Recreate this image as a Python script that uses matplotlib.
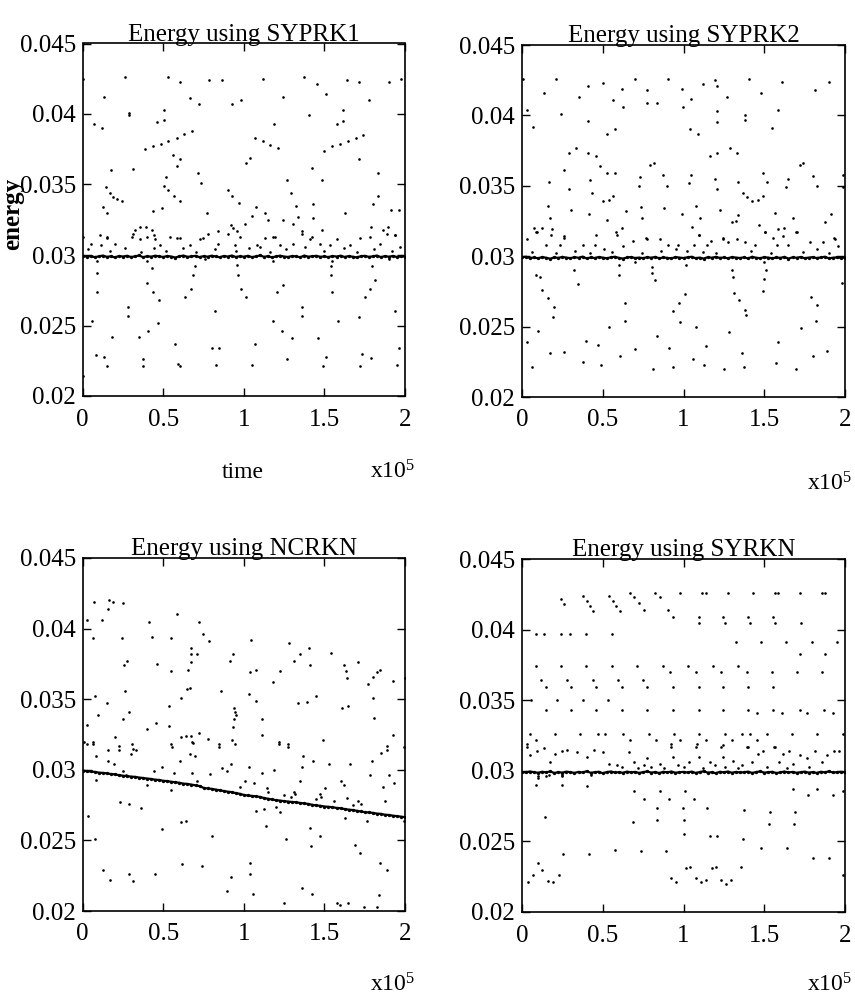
import numpy as np
import matplotlib
matplotlib.use("Agg")
import matplotlib.pyplot as plt

plt.rcParams['font.family'] = ['Liberation Serif', 'DejaVu Serif']
plt.rcParams['mathtext.fontset'] = 'custom'
plt.rcParams['mathtext.rm'] = 'Liberation Serif'
plt.rcParams['mathtext.it'] = 'Liberation Serif'

##############################################
# dati (tempo in unita' di 1e5)
titles = ['Energy using SYPRK1', 'Energy using SYPRK2', 'Energy using NCRKN', 'Energy using SYRKN']
yticks = [0.02, 0.025, 0.03, 0.035, 0.04, 0.045]
ytick_labels = ['0.02', '0.025', '0.03', '0.035', '0.04', '0.045']
xticks = [0, 0.5, 1, 1.5, 2]
xtick_labels = ['0', '0.5', '1', '1.5', '2']

# banda densa (campionata a passo costante su [0, 2])
band_syprk1 = [
    0.02995, 0.02988, 0.02992, 0.02985, 0.02990, 0.02996, 0.02987, 0.02991, 0.02983, 0.02993,
    0.02989, 0.02994, 0.02986, 0.02990, 0.02997, 0.02984, 0.02992, 0.02988, 0.02995, 0.02990,
    0.02986, 0.02993, 0.02989, 0.02982, 0.02991, 0.02996, 0.02987, 0.02990, 0.02994, 0.02985,
    0.02992, 0.02988, 0.02995, 0.02990, 0.02984, 0.02993, 0.02989, 0.02996, 0.02986, 0.02991,
    0.02988, 0.02994, 0.02985, 0.02990, 0.02997, 0.02987, 0.02992, 0.02983, 0.02990, 0.02995,
    0.02989, 0.02986, 0.02993, 0.02990, 0.02984, 0.02996, 0.02988, 0.02991, 0.02994, 0.02987,
    0.02990, 0.02985, 0.02993, 0.02989, 0.02995, 0.02986, 0.02992, 0.02988, 0.02983, 0.02991,
    0.02994, 0.02987, 0.02990, 0.02996, 0.02985, 0.02992, 0.02988, 0.02993, 0.02986, 0.02990,
    0.02989]
band_syprk2 = [
    0.02993, 0.02996, 0.02987, 0.02991, 0.02985, 0.02994, 0.02989, 0.02982, 0.02992, 0.02988,
    0.02995, 0.02990, 0.02986, 0.02993, 0.02989, 0.02997, 0.02984, 0.02991, 0.02987, 0.02994,
    0.02990, 0.02985, 0.02992, 0.02996, 0.02988, 0.02983, 0.02991, 0.02994, 0.02987, 0.02990,
    0.02986, 0.02993, 0.02989, 0.02995, 0.02985, 0.02991, 0.02988, 0.02984, 0.02994, 0.02990,
    0.02987, 0.02992, 0.02996, 0.02986, 0.02990, 0.02983, 0.02993, 0.02989, 0.02995, 0.02988,
    0.02991, 0.02985, 0.02994, 0.02990, 0.02987, 0.02992, 0.02984, 0.02996, 0.02989, 0.02986,
    0.02993, 0.02990, 0.02985, 0.02991, 0.02988, 0.02995, 0.02983, 0.02992, 0.02989, 0.02994,
    0.02986, 0.02990, 0.02993, 0.02987, 0.02991, 0.02996, 0.02985, 0.02989, 0.02992, 0.02988,
    0.02990]
band_ncrkn = [
    0.02995, 0.02990, 0.02988, 0.02985, 0.02980, 0.02978, 0.02975, 0.02970, 0.02968, 0.02962,
    0.02958, 0.02955, 0.02952, 0.02950, 0.02945, 0.02942, 0.02938, 0.02935, 0.02930, 0.02928,
    0.02922, 0.02920, 0.02915, 0.02912, 0.02908, 0.02902, 0.02900, 0.02895, 0.02890, 0.02885,
    0.02872, 0.02868, 0.02865, 0.02860, 0.02855, 0.02850, 0.02845, 0.02842, 0.02835, 0.02830,
    0.02822, 0.02818, 0.02815, 0.02812, 0.02808, 0.02800, 0.02795, 0.02790, 0.02785, 0.02782,
    0.02778, 0.02775, 0.02772, 0.02770, 0.02765, 0.02762, 0.02758, 0.02752, 0.02748, 0.02745,
    0.02740, 0.02738, 0.02735, 0.02730, 0.02728, 0.02722, 0.02718, 0.02715, 0.02710, 0.02705,
    0.02700, 0.02698, 0.02695, 0.02690, 0.02688, 0.02682, 0.02680, 0.02675, 0.02672, 0.02668,
    0.02665]
band_syrkn = [
    0.02992, 0.02988, 0.02995, 0.02990, 0.02986, 0.02993, 0.02989, 0.02996, 0.02984, 0.02991,
    0.02987, 0.02994, 0.02990, 0.02985, 0.02992, 0.02988, 0.02997, 0.02986, 0.02990, 0.02993,
    0.02983, 0.02991, 0.02995, 0.02988, 0.02990, 0.02986, 0.02994, 0.02989, 0.02992, 0.02985,
    0.02990, 0.02996, 0.02987, 0.02991, 0.02984, 0.02993, 0.02989, 0.02995, 0.02986, 0.02990,
    0.02992, 0.02988, 0.02994, 0.02985, 0.02991, 0.02997, 0.02987, 0.02990, 0.02983, 0.02993,
    0.02989, 0.02995, 0.02986, 0.02992, 0.02988, 0.02990, 0.02994, 0.02985, 0.02991, 0.02996,
    0.02987, 0.02990, 0.02993, 0.02984, 0.02989, 0.02995, 0.02988, 0.02992, 0.02986, 0.02990,
    0.02994, 0.02987, 0.02991, 0.02985, 0.02993, 0.02989, 0.02996, 0.02988, 0.02990, 0.02992,
    0.02989]

# punti sparsi (t, energia)
pts_syprk1 = [
    (0.004, 0.0425), (0.263, 0.0426), (0.527, 0.0426), (0.604, 0.0423), (0.786, 0.0424), (0.862, 0.0424),
    (1.121, 0.0425), (1.373, 0.0426), (1.452, 0.0421), (1.510, 0.0414), (1.638, 0.0424), (1.717, 0.0423),
    (1.903, 0.0423), (1.975, 0.0425), (0.132, 0.0412), (0.666, 0.0411), (0.722, 0.0407), (0.929, 0.0407),
    (0.980, 0.0410), (1.245, 0.0412), (1.779, 0.0410), (0.290, 0.0399), (0.290, 0.0401), (0.505, 0.0403),
    (0.505, 0.0396), (0.072, 0.0393), (0.118, 0.0390), (0.459, 0.0394), (1.187, 0.0393), (1.406, 0.0399),
    (1.617, 0.0403), (1.617, 0.0395), (1.580, 0.0393),
    (0.387, 0.0375), (0.434, 0.0377), (0.486, 0.0379), (0.531, 0.0381), (0.583, 0.0383), (0.630, 0.0386),
    (0.676, 0.0388), (1.497, 0.0374), (1.545, 0.0377), (1.597, 0.0379), (1.648, 0.0381), (1.696, 0.0383),
    (1.741, 0.0385), (1.069, 0.0383), (1.117, 0.0381), (1.162, 0.0378), (1.214, 0.0376),
    (0.563, 0.0371), (0.604, 0.0368), (0.583, 0.0363), (1.038, 0.0369), (1.013, 0.0365), (1.717, 0.0368),
    (0.310, 0.0361), (0.176, 0.0360), (1.421, 0.0362), (1.487, 0.0353), (0.718, 0.0358), (0.734, 0.0351),
    (1.270, 0.0353), (1.830, 0.0358), (0.145, 0.0348), (0.170, 0.0344), (0.190, 0.0341), (0.215, 0.0340),
    (0.242, 0.0338), (0.517, 0.0355), (0.505, 0.0349), (0.532, 0.0346), (0.567, 0.0342), (0.604, 0.0338),
    (0.900, 0.0346), (0.929, 0.0342), (0.972, 0.0337), (1.293, 0.0344), (1.324, 0.0335), (1.427, 0.0336),
    (1.830, 0.0342), (1.799, 0.0336), (0.128, 0.0334), (0.153, 0.0330), (0.434, 0.0331), (0.490, 0.0333),
    (0.774, 0.0330), (1.073, 0.0334), (1.052, 0.0328), (1.131, 0.0330), (1.152, 0.0325), (1.245, 0.0325),
    (1.338, 0.0327), (1.431, 0.0326), (1.627, 0.0330), (1.911, 0.0332), (1.965, 0.0332),
    (0.325, 0.0318), (0.356, 0.0320), (0.393, 0.0320), (0.428, 0.0318), (0.445, 0.0314), (0.308, 0.0313),
    (0.842, 0.0317), (0.918, 0.0321), (0.935, 0.0319), (0.960, 0.0317), (1.007, 0.0322), (1.193, 0.0313),
    (1.307, 0.0322), (1.359, 0.0317), (1.421, 0.0313), (1.483, 0.0318), (1.787, 0.0320), (1.866, 0.0318),
    (1.897, 0.0320), (1.938, 0.0314), (0.153, 0.0313), (0.108, 0.0314), (0.583, 0.0312), (0.749, 0.0312),
    (0.004, 0.0313), (0.050, 0.0308), (0.112, 0.0307), (0.149, 0.0312), (0.201, 0.0308), (0.314, 0.0315),
    (0.356, 0.0311), (0.397, 0.0313), (0.449, 0.0311), (0.480, 0.0307), (0.542, 0.0313), (0.604, 0.0312),
    (0.666, 0.0307), (0.728, 0.0311), (0.780, 0.0315), (0.842, 0.0308), (0.904, 0.0315), (0.945, 0.0307),
    (0.976, 0.0313), (1.080, 0.0307), (1.131, 0.0312), (1.183, 0.0313), (1.224, 0.0307), (1.307, 0.0308),
    (1.359, 0.0315), (1.411, 0.0311), (1.473, 0.0308), (1.535, 0.0307), (1.576, 0.0311), (1.659, 0.0307),
    (1.721, 0.0312), (1.783, 0.0313), (1.845, 0.0308), (1.886, 0.0315), (1.938, 0.0314), (1.969, 0.0306),
    (0.030, 0.0304), (0.170, 0.0303), (0.260, 0.0305), (0.360, 0.0302), (0.520, 0.0303), (0.620, 0.0305),
    (0.700, 0.0302), (0.820, 0.0304), (0.950, 0.0303), (1.030, 0.0305), (1.160, 0.0302), (1.260, 0.0304),
    (1.380, 0.0306), (1.500, 0.0303), (1.620, 0.0305), (1.700, 0.0302), (1.810, 0.0304), (1.920, 0.0303),
    (0.440, 0.0305), (1.100, 0.0306), (0.090, 0.0296), (0.400, 0.0296), (0.760, 0.0297), (1.180, 0.0296),
    (1.550, 0.0296), (1.900, 0.0297),
    (0.091, 0.0287), (0.091, 0.0274), (0.056, 0.0253), (0.083, 0.0229), (0.132, 0.0228), (0.149, 0.0221),
    (0.184, 0.0242), (0.283, 0.0263), (0.283, 0.0257), (0.352, 0.0242), (0.372, 0.0226), (0.376, 0.0221),
    (0.397, 0.0280), (0.428, 0.0291), (0.438, 0.0274), (0.476, 0.0268), (0.469, 0.0252), (0.407, 0.0246),
    (0.573, 0.0237), (0.594, 0.0223), (0.604, 0.0221), (0.635, 0.0270), (0.670, 0.0276), (0.687, 0.0286),
    (0.697, 0.0292), (0.800, 0.0234), (0.821, 0.0260), (0.827, 0.0222), (0.846, 0.0234), (0.956, 0.0293),
    (0.966, 0.0286), (0.980, 0.0276), (1.013, 0.0270), (1.049, 0.0222), (1.069, 0.0237), (1.178, 0.0253),
    (1.204, 0.0274), (1.241, 0.0279), (1.235, 0.0246), (1.270, 0.0226), (1.297, 0.0241), (1.359, 0.0263),
    (1.359, 0.0257), (1.462, 0.0241), (1.493, 0.0221), (1.510, 0.0228), (1.539, 0.0292), (1.539, 0.0286),
    (1.549, 0.0274), (1.586, 0.0253), (1.715, 0.0256), (1.721, 0.0221), (1.731, 0.0230), (1.752, 0.0270),
    (1.783, 0.0276), (1.793, 0.0292), (1.814, 0.0282), (1.787, 0.0227), (1.938, 0.0260), (1.948, 0.0222),
    (1.965, 0.0234), (0.004, 0.0214)]

pts_syprk2 = [
    (0.006, 0.0426), (0.212, 0.0426), (0.134, 0.0416), (0.241, 0.0401), (0.031, 0.0404), (0.068, 0.0392),
    (0.351, 0.0413), (0.408, 0.0421), (0.501, 0.0423), (0.563, 0.0411), (0.619, 0.0419), (0.625, 0.0406),
    (0.697, 0.0426), (0.777, 0.0418), (0.777, 0.0409), (0.835, 0.0409), (0.907, 0.0426), (0.990, 0.0419),
    (0.996, 0.0406), (1.047, 0.0412), (1.120, 0.0422), (1.196, 0.0425), (1.210, 0.0421), (1.268, 0.0413),
    (1.408, 0.0426), (1.478, 0.0416), (1.608, 0.0424), (1.814, 0.0418), (1.903, 0.0424), (1.210, 0.0403),
    (1.210, 0.0395), (1.381, 0.0400), (1.381, 0.0397), (1.588, 0.0404), (1.546, 0.0391), (0.408, 0.0396),
    (0.526, 0.0387), (0.577, 0.0390), (1.041, 0.0390), (1.087, 0.0387),
    (0.258, 0.0361), (0.289, 0.0373), (0.334, 0.0377), (0.408, 0.0373), (0.460, 0.0371), (0.485, 0.0364),
    (0.526, 0.0359), (0.577, 0.0359), (0.423, 0.0354), (0.433, 0.0345), (0.501, 0.0339), (0.536, 0.0340),
    (0.563, 0.0343), (0.289, 0.0348), (0.303, 0.0333), (0.165, 0.0353), (0.794, 0.0365), (0.818, 0.0366),
    (0.732, 0.0356), (0.722, 0.0350), (0.876, 0.0358), (0.897, 0.0350), (1.045, 0.0358), (1.031, 0.0352),
    (1.165, 0.0371), (1.210, 0.0373), (1.285, 0.0377), (1.330, 0.0373), (1.196, 0.0355), (1.210, 0.0348),
    (1.340, 0.0353), (1.367, 0.0345), (1.392, 0.0342), (1.427, 0.0339), (1.464, 0.0340), (1.491, 0.0343),
    (1.495, 0.0359), (1.515, 0.0353), (1.649, 0.0355), (1.636, 0.0349), (1.722, 0.0365), (1.742, 0.0366),
    (1.804, 0.0357), (1.825, 0.0350), (1.990, 0.0358), (1.990, 0.0349),
    (0.159, 0.0336), (0.175, 0.0327), (0.076, 0.0320), (0.124, 0.0320), (0.093, 0.0317), (0.186, 0.0319),
    (0.258, 0.0313), (0.416, 0.0330), (0.460, 0.0315), (0.526, 0.0326), (0.584, 0.0317), (0.619, 0.0320),
    (0.645, 0.0332), (0.736, 0.0335), (0.746, 0.0327), (0.773, 0.0312), (0.880, 0.0334), (0.990, 0.0330),
    (1.078, 0.0336), (1.103, 0.0327), (1.052, 0.0321), (1.099, 0.0315), (1.227, 0.0333), (1.299, 0.0324),
    (1.326, 0.0325), (1.340, 0.0329), (1.470, 0.0322), (1.505, 0.0317), (1.567, 0.0331), (1.588, 0.0319),
    (1.623, 0.0320), (1.680, 0.0327), (1.701, 0.0317), (1.876, 0.0324), (1.911, 0.0330), (1.938, 0.0312),
    (1.557, 0.0313), (1.247, 0.0313),
    (0.031, 0.0312), (0.089, 0.0317), (0.151, 0.0308), (0.179, 0.0315), (0.233, 0.0308), (0.258, 0.0314),
    (0.377, 0.0308), (0.454, 0.0308), (0.505, 0.0305), (0.588, 0.0315), (0.625, 0.0307), (0.687, 0.0311),
    (0.769, 0.0313), (0.852, 0.0312), (0.901, 0.0308), (0.955, 0.0305), (0.969, 0.0308), (1.021, 0.0304),
    (1.062, 0.0308), (1.099, 0.0315), (1.144, 0.0308), (1.169, 0.0311), (1.247, 0.0312), (1.278, 0.0310),
    (1.330, 0.0312), (1.381, 0.0310), (1.443, 0.0308), (1.505, 0.0317), (1.577, 0.0308), (1.619, 0.0314),
    (1.649, 0.0308), (1.697, 0.0317), (1.784, 0.0310), (1.825, 0.0305), (1.866, 0.0310), (1.932, 0.0313),
    (1.959, 0.0307), (0.060, 0.0303), (0.210, 0.0302), (0.330, 0.0304), (0.420, 0.0302), (0.560, 0.0303),
    (0.740, 0.0302), (0.860, 0.0304), (1.120, 0.0303), (1.200, 0.0302), (1.420, 0.0304), (1.540, 0.0302),
    (1.740, 0.0303), (1.900, 0.0302), (0.700, 0.0296), (1.500, 0.0296),
    (0.031, 0.0239), (0.062, 0.0221), (0.089, 0.0287), (0.097, 0.0247), (0.109, 0.0285), (0.124, 0.0276),
    (0.159, 0.0270), (0.171, 0.0231), (0.196, 0.0264), (0.191, 0.0257), (0.258, 0.0232), (0.320, 0.0290),
    (0.344, 0.0280), (0.377, 0.0225), (0.398, 0.0240), (0.470, 0.0237), (0.489, 0.0223), (0.536, 0.0250),
    (0.598, 0.0294), (0.598, 0.0287), (0.608, 0.0229), (0.635, 0.0267), (0.635, 0.0254), (0.701, 0.0234),
    (0.804, 0.0288), (0.804, 0.0292), (0.810, 0.0220), (0.825, 0.0283), (0.839, 0.0243), (0.913, 0.0235),
    (0.932, 0.0221), (0.934, 0.0261), (0.975, 0.0267), (1.010, 0.0273), (0.979, 0.0253), (1.016, 0.0294),
    (1.058, 0.0227), (1.078, 0.0250), (1.128, 0.0223), (1.140, 0.0236), (1.252, 0.0220), (1.282, 0.0246),
    (1.299, 0.0290), (1.305, 0.0285), (1.313, 0.0274), (1.346, 0.0269), (1.361, 0.0231), (1.375, 0.0221),
    (1.381, 0.0262), (1.386, 0.0258), (1.495, 0.0275), (1.501, 0.0284), (1.511, 0.0290), (1.588, 0.0239),
    (1.573, 0.0224), (1.697, 0.0220), (1.726, 0.0249), (1.788, 0.0271), (1.800, 0.0229), (1.825, 0.0265),
    (1.820, 0.0254), (1.887, 0.0233), (1.979, 0.0281)]

pts_ncrkn = [
    (0.027, 0.0406), (0.068, 0.0419), (0.062, 0.0393), (0.118, 0.0406), (0.159, 0.0414), (0.165, 0.0420),
    (0.186, 0.0419), (0.247, 0.0418), (0.241, 0.0393), (0.258, 0.0374), (0.274, 0.0377), (0.262, 0.0356),
    (0.289, 0.0341), (0.078, 0.0352), (0.097, 0.0339), (0.151, 0.0347), (0.247, 0.0336), (0.200, 0.0323),
    (0.027, 0.0332), (0.027, 0.0318), (0.062, 0.0318), (0.412, 0.0405), (0.427, 0.0394), (0.464, 0.0375),
    (0.396, 0.0329), (0.454, 0.0333), (0.536, 0.0331), (0.536, 0.0345), (0.546, 0.0393), (0.551, 0.0370),
    (0.588, 0.0410), (0.608, 0.0351), (0.645, 0.0357), (0.666, 0.0358), (0.656, 0.0371), (0.670, 0.0376),
    (0.674, 0.0382), (0.674, 0.0386), (0.711, 0.0382), (0.722, 0.0405), (0.748, 0.0396), (0.784, 0.0391),
    (0.608, 0.0323), (0.639, 0.0324), (0.674, 0.0324), (0.722, 0.0326), (0.777, 0.0322), (0.687, 0.0319),
    (0.856, 0.0356), (0.913, 0.0377), (0.932, 0.0382), (0.938, 0.0344), (0.948, 0.0341), (0.953, 0.0339),
    (0.938, 0.0336), (0.932, 0.0330), (0.928, 0.0321), (1.031, 0.0354), (1.037, 0.0369), (1.045, 0.0392),
    (1.078, 0.0371), (1.078, 0.0349), (1.113, 0.0336), (1.113, 0.0325), (1.181, 0.0362), (1.223, 0.0370),
    (1.216, 0.0318), (1.278, 0.0390), (1.313, 0.0377), (1.334, 0.0347), (1.351, 0.0382), (1.392, 0.0348),
    (1.402, 0.0386), (1.412, 0.0374), (1.449, 0.0352), (1.491, 0.0321), (1.540, 0.0383), (1.623, 0.0374),
    (1.633, 0.0370), (1.639, 0.0365), (1.608, 0.0344), (1.649, 0.0345), (1.711, 0.0376), (1.773, 0.0361),
    (1.804, 0.0366), (1.825, 0.0369), (1.845, 0.0371), (1.804, 0.0351), (1.808, 0.0337), (1.924, 0.0363),
    (1.924, 0.0325), (1.998, 0.0365), (1.272, 0.0316), (0.845, 0.0316), (0.315, 0.0315), (0.227, 0.0314),
    (0.557, 0.0316), (1.891, 0.0314),
    (0.010, 0.0320), (0.062, 0.0320), (0.035, 0.0267), (0.078, 0.0251), (0.082, 0.0310), (0.082, 0.0293),
    (0.124, 0.0229), (0.155, 0.0306), (0.159, 0.0314), (0.171, 0.0222), (0.196, 0.0304), (0.227, 0.0317),
    (0.233, 0.0277), (0.247, 0.0299), (0.268, 0.0296), (0.285, 0.0276), (0.289, 0.0226), (0.299, 0.0311),
    (0.309, 0.0318), (0.315, 0.0221), (0.330, 0.0314), (0.361, 0.0273), (0.402, 0.0289), (0.443, 0.0299),
    (0.447, 0.0226), (0.495, 0.0258), (0.495, 0.0302), (0.546, 0.0318), (0.551, 0.0286), (0.567, 0.0298),
    (0.604, 0.0306), (0.612, 0.0263), (0.639, 0.0264), (0.619, 0.0233), (0.666, 0.0311), (0.680, 0.0320),
    (0.697, 0.0310), (0.680, 0.0298), (0.711, 0.0292), (0.738, 0.0232), (0.790, 0.0297), (0.800, 0.0253),
    (0.845, 0.0318), (0.866, 0.0301), (0.893, 0.0299), (0.918, 0.0304), (0.897, 0.0214), (0.918, 0.0224),
    (0.948, 0.0318), (0.979, 0.0288), (1.010, 0.0292), (1.031, 0.0302), (1.037, 0.0226), (1.041, 0.0234),
    (1.058, 0.0212), (1.062, 0.0291), (1.078, 0.0271), (1.113, 0.0298), (1.124, 0.0272), (1.140, 0.0260),
    (1.144, 0.0287), (1.186, 0.0300), (1.202, 0.0274), (1.216, 0.0320), (1.227, 0.0270), (1.264, 0.0251),
    (1.252, 0.0206), (1.272, 0.0318), (1.309, 0.0284), (1.346, 0.0292), (1.361, 0.0302), (1.367, 0.0310),
    (1.361, 0.0216), (1.412, 0.0259), (1.416, 0.0246), (1.423, 0.0212), (1.429, 0.0306), (1.470, 0.0283),
    (1.470, 0.0253), (1.505, 0.0287), (1.526, 0.0304), (1.577, 0.0206), (1.598, 0.0204), (1.602, 0.0292),
    (1.619, 0.0289), (1.629, 0.0266), (1.649, 0.0206), (1.656, 0.0304), (1.639, 0.0280), (1.691, 0.0247),
    (1.711, 0.0278), (1.722, 0.0241), (1.746, 0.0203), (1.763, 0.0264), (1.784, 0.0296), (1.794, 0.0306),
    (1.825, 0.0203), (1.841, 0.0211), (1.845, 0.0234), (1.849, 0.0312), (1.862, 0.0288), (1.876, 0.0278),
    (1.891, 0.0317), (1.891, 0.0229), (1.903, 0.0296), (1.934, 0.0291), (1.994, 0.0264), (1.994, 0.0316),
    (1.250, 0.0282), (1.290, 0.0281), (1.320, 0.0283), (1.450, 0.0279), (1.480, 0.0281), (1.560, 0.0278),
    (1.150, 0.0284), (1.680, 0.0275), (1.730, 0.0276)]

pts_syrkn = [
    (0.670, 0.0426), (0.825, 0.0426), (0.979, 0.0426), (1.113, 0.0426), (1.140, 0.0426), (1.274, 0.0426),
    (1.429, 0.0426), (1.567, 0.0426), (1.588, 0.0426), (1.722, 0.0426), (1.856, 0.0426), (1.876, 0.0426),
    (0.241, 0.0422), (0.262, 0.0418), (0.377, 0.0424), (0.402, 0.0420), (0.423, 0.0417), (0.439, 0.0413),
    (0.536, 0.0424), (0.563, 0.0420), (0.584, 0.0417), (0.604, 0.0413), (0.695, 0.0423), (0.722, 0.0419),
    (0.753, 0.0414), (0.852, 0.0423), (0.907, 0.0414), (0.934, 0.0409), (1.093, 0.0409), (1.099, 0.0405),
    (1.247, 0.0409), (1.258, 0.0405), (1.402, 0.0409), (1.412, 0.0405), (1.557, 0.0409), (1.567, 0.0405),
    (1.726, 0.0405),
    (0.087, 0.0397), (0.138, 0.0397), (0.241, 0.0397), (0.295, 0.0397), (0.398, 0.0397), (0.557, 0.0397),
    (1.324, 0.0391), (1.480, 0.0391), (1.635, 0.0391), (1.794, 0.0391), (1.948, 0.0391),
    (1.722, 0.0383), (1.876, 0.0383),
    (0.087, 0.0374), (0.241, 0.0374), (0.398, 0.0374), (0.557, 0.0374), (0.711, 0.0374), (0.870, 0.0374),
    (1.025, 0.0374), (1.181, 0.0374), (1.340, 0.0374),
    (0.918, 0.0370), (1.076, 0.0370), (1.233, 0.0370), (1.392, 0.0370), (1.551, 0.0370), (1.705, 0.0370),
    (1.860, 0.0370),
    (0.120, 0.0364), (0.278, 0.0364), (0.437, 0.0364), (0.594, 0.0364), (0.748, 0.0364),
    (0.151, 0.0359), (0.305, 0.0359), (0.460, 0.0359), (0.619, 0.0359), (0.777, 0.0359), (0.934, 0.0359),
    (1.093, 0.0359), (1.247, 0.0359), (1.402, 0.0359), (1.557, 0.0359),
    (0.058, 0.0350), (0.216, 0.0350), (0.375, 0.0350), (0.532, 0.0350),
    (0.151, 0.0343), (0.305, 0.0343), (0.460, 0.0343), (0.619, 0.0343), (0.777, 0.0343), (0.934, 0.0343),
    (1.093, 0.0343), (1.247, 0.0343), (1.402, 0.0343), (1.557, 0.0343), (1.722, 0.0343), (1.870, 0.0343),
    (1.454, 0.0341), (1.608, 0.0341), (1.763, 0.0341), (1.924, 0.0341),
    (0.047, 0.0326), (0.202, 0.0326), (0.361, 0.0326), (0.468, 0.0326), (0.515, 0.0326), (0.625, 0.0326),
    (0.784, 0.0326), (0.942, 0.0326), (1.099, 0.0326), (1.258, 0.0326), (1.361, 0.0326), (1.412, 0.0326),
    (1.520, 0.0326), (1.674, 0.0326), (1.829, 0.0326), (1.990, 0.0326),
    (0.087, 0.0322), (0.666, 0.0322), (0.829, 0.0322), (0.979, 0.0322), (1.138, 0.0322), (1.299, 0.0322),
    (1.454, 0.0322), (0.031, 0.0317), (0.922, 0.0317), (1.078, 0.0317), (1.233, 0.0317), (1.392, 0.0317),
    (1.563, 0.0317),
    (0.031, 0.0319), (0.047, 0.0311), (0.093, 0.0314), (0.134, 0.0316), (0.175, 0.0306), (0.206, 0.0312),
    (0.247, 0.0314), (0.278, 0.0315), (0.340, 0.0313), (0.402, 0.0310), (0.443, 0.0315), (0.501, 0.0313),
    (0.536, 0.0305), (0.588, 0.0304), (0.660, 0.0313), (0.695, 0.0306), (0.753, 0.0304), (0.773, 0.0309),
    (0.856, 0.0305), (0.922, 0.0319), (0.934, 0.0310), (0.969, 0.0304), (1.031, 0.0306), (1.082, 0.0319),
    (1.093, 0.0310), (1.165, 0.0306), (1.196, 0.0304), (1.243, 0.0318), (1.247, 0.0310), (1.309, 0.0307),
    (1.361, 0.0304), (1.402, 0.0317), (1.423, 0.0306), (1.464, 0.0312), (1.495, 0.0314), (1.567, 0.0317),
    (1.594, 0.0306), (1.615, 0.0312), (1.656, 0.0314), (1.680, 0.0305), (1.722, 0.0311), (1.763, 0.0309),
    (1.814, 0.0314), (1.856, 0.0306), (1.887, 0.0311), (1.932, 0.0314), (1.965, 0.0314),
    (0.620, 0.0303), (0.720, 0.0302), (0.800, 0.0303), (0.880, 0.0302), (1.000, 0.0303), (1.120, 0.0302),
    (1.260, 0.0303), (1.340, 0.0302), (1.520, 0.0303), (1.640, 0.0302), (1.780, 0.0303), (0.100, 0.0296),
    (0.170, 0.0297), (0.250, 0.0296), (0.430, 0.0297),
    (0.035, 0.0221), (0.068, 0.0226), (0.089, 0.0290), (0.097, 0.0295), (0.097, 0.0235), (0.124, 0.0230),
    (0.144, 0.0267), (0.159, 0.0222), (0.192, 0.0221), (0.227, 0.0226), (0.151, 0.0296), (0.247, 0.0290),
    (0.254, 0.0241), (0.247, 0.0297), (0.402, 0.0289), (0.412, 0.0241), (0.577, 0.0244), (0.695, 0.0286),
    (0.687, 0.0264), (0.736, 0.0243), (0.757, 0.0280), (0.835, 0.0274), (0.839, 0.0265), (0.852, 0.0286),
    (0.893, 0.0243), (0.913, 0.0280), (0.922, 0.0224), (0.955, 0.0221), (0.996, 0.0274), (1.000, 0.0265),
    (1.010, 0.0286), (1.006, 0.0255), (1.016, 0.0231), (1.041, 0.0232), (1.068, 0.0280), (1.076, 0.0224),
    (1.107, 0.0221), (1.140, 0.0223), (1.148, 0.0274), (1.161, 0.0254), (1.175, 0.0231), (1.202, 0.0232),
    (1.210, 0.0254), (1.231, 0.0223), (1.264, 0.0220), (1.295, 0.0223), (1.355, 0.0232), (1.367, 0.0252),
    (1.375, 0.0272), (1.480, 0.0245), (1.532, 0.0262), (1.536, 0.0271), (1.639, 0.0245), (1.676, 0.0287),
    (1.691, 0.0271), (1.687, 0.0262), (1.769, 0.0283), (1.804, 0.0238), (1.829, 0.0287), (1.903, 0.0238),
    (1.928, 0.0283), (1.990, 0.0286), (1.990, 0.0226)]

# posizione dei pannelli in pixel (sinistra, alto, destra, basso)
W, H = 855, 998
boxes = [(82.7, 43.5, 405, 396), (522, 45, 845, 397), (82.7, 558, 405, 911), (522, 559, 845, 912)]
# posizione della scritta x10^5 (pixel)
exp_pos = [(393, 472), (830, 484), (393, 985), (830, 985)]


def draw_panel(fig, box, title, band, pts):
    l, t, r, b = box
    ax = fig.add_axes([l / W, 1 - b / H, (r - l) / W, (b - t) / H])
    tb = np.linspace(0, 2, len(band))
    # la banda e' molto fitta: punti + linea sottile per renderla continua
    ax.plot(tb, band, '-', color='black', linewidth=1.6)
    ax.plot(tb, band, 'o', color='black', markersize=2.4, markeredgewidth=0)
    x, y = zip(*pts)
    ax.plot(x, y, 'o', color='black', markersize=1.9, markeredgewidth=0)
    ax.set_xlim(0, 2)
    ax.set_ylim(0.02, 0.045)
    ax.set_xticks(xticks)
    ax.set_xticklabels(xtick_labels)
    ax.set_yticks(yticks)
    ax.set_yticklabels(ytick_labels)
    ax.tick_params(direction='in', length=6, width=1, top=True, right=True, labelsize=18)
    ax.tick_params(axis='x', pad=9)
    ax.tick_params(axis='y', pad=5)
    for s in ax.spines.values():
        s.set_linewidth(1.2)
    ax.set_title(title, fontsize=18, pad=2)
    return ax


def main():
    fig = plt.figure(figsize=(W / 100, H / 100), dpi=100)
    bands = [band_syprk1, band_syprk2, band_ncrkn, band_syrkn]
    allpts = [pts_syprk1, pts_syprk2, pts_ncrkn, pts_syrkn]
    i = 0
    while i < 4:
        draw_panel(fig, boxes[i], titles[i], bands[i], allpts[i])
        ex, ey = exp_pos[i]
        fig.text(ex / W, 1 - ey / H, r'x10$^{5}$', fontsize=17, ha='center', va='center')
        i = i + 1
    fig.text(243 / W, 1 - 472 / H, 'time', fontsize=17, ha='center', va='center')
    fig.text(13 / W, 1 - 214 / H, 'energy', fontsize=18, fontweight='bold',
             rotation=90, ha='center', va='center')
    fig.savefig('out.png', dpi=100)


if __name__ == "__main__":
    main()
